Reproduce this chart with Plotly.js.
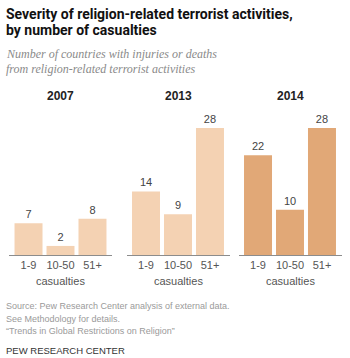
<!DOCTYPE html>
<html>
<head>
<meta charset="utf-8">
<script src="https://cdn.plot.ly/plotly-3.0.1.min.js"></script>
<style>
  html, body { margin: 0; padding: 0; background: #fff; }
  #chart { width: 350px; height: 358px; }
</style>
</head>
<body>
<div id="chart"></div>
<script>
// Countries with casualties from religion-related terrorism, by casualty band
const years = ['2007', '2013', '2014'];
const categories = ['1-9', '10-50', '51+'];
const counts2007 = [7, 2, 8];
const counts2013 = [14, 9, 28];
const counts2014 = [22, 10, 28];

const W = 350, H = 358;
const px = x => x / W;          // pixel -> paper x
const py = y => 1 - y / H;      // pixel -> paper y

const lightColor = '#F4D2B3';
const darkColor = '#E1A877';
const seriesList = [counts2007, counts2013, counts2014];
const colors = [lightColor, lightColor, darkColor];
const axisIds = ['x', 'x2', 'x3'];
const domains = [[9, 112], [126.5, 229.5], [238.5, 341.5]];
const sans = 'Liberation Sans, Arial, sans-serif';

const traces = seriesList.map((vals, i) => ({
  type: 'bar',
  x: categories,
  y: vals,
  xaxis: axisIds[i],
  yaxis: 'y',
  marker: { color: colors[i] },
  text: vals.map(String),
  textposition: 'outside',
  textfont: { family: sans, size: 11, color: '#444' },
  cliponaxis: false,
  hoverinfo: 'skip'
}));

const baseY = 255, topY = 255 - 30 * (127 / 28);

const layout = {
  width: W, height: H,
  margin: { l: 0, r: 0, t: 0, b: 0 },
  paper_bgcolor: '#fff',
  plot_bgcolor: '#fff',
  showlegend: false,
  bargap: 0.125,
  yaxis: {
    range: [0, 30],
    domain: [py(baseY), py(topY)],
    visible: false,
    fixedrange: true
  },
  annotations: [],
  font: { family: sans }
};

axisIds.forEach((id, i) => {
  const key = id === 'x' ? 'xaxis' : 'xaxis' + id.slice(1);
  layout[key] = {
    domain: [px(domains[i][0]), px(domains[i][1])],
    anchor: 'y',
    type: 'category',
    range: [-0.61, 2.61],
    showline: true,
    linecolor: '#8c8c8c',
    linewidth: 1,
    showgrid: false,
    zeroline: false,
    ticks: '',
    tickfont: { family: sans, size: 11, color: '#555' },
    fixedrange: true
  };
  const cx = (domains[i][0] + domains[i][1]) / 2;
  layout.annotations.push({
    xref: 'paper', yref: 'paper', x: px(cx), y: py(96),
    xanchor: 'center', yanchor: 'middle', showarrow: false,
    text: '<b>' + years[i] + '</b>',
    font: { family: sans, size: 12, color: '#222' }
  });
  layout.annotations.push({
    xref: 'paper', yref: 'paper', x: px(cx), y: py(281),
    xanchor: 'center', yanchor: 'middle', showarrow: false,
    text: 'casualties',
    font: { family: sans, size: 11, color: '#555' }
  });
});

// Headline, subtitle and footer text
const leftX = px(4);
const textBlocks = [
  { y: 14, text: '<b>Severity of religion-related terrorist activities,</b>', size: 14, color: '#111', family: 'Roboto, Liberation Sans, sans-serif' },
  { y: 30, text: '<b>by number of casualties</b>', size: 14, color: '#111', family: 'Roboto, Liberation Sans, sans-serif' },
  { y: 54, text: '<i>Number of countries with injuries or deaths</i>', size: 12, color: '#8a8a8a', family: 'Liberation Serif, serif' },
  { y: 69, text: '<i>from religion-related terrorist activities</i>', size: 12, color: '#8a8a8a', family: 'Liberation Serif, serif' },
  { y: 306, text: 'Source: Pew Research Center analysis of external data.', size: 9, color: '#9a9a9a', family: sans },
  { y: 319, text: 'See Methodology for details.', size: 9, color: '#9a9a9a', family: sans },
  { y: 331, text: '\u201CTrends in Global Restrictions on Religion\u201D', size: 9, color: '#9a9a9a', family: sans },
  { y: 350, text: 'PEW RESEARCH CENTER', size: 9.5, color: '#333', family: sans }
];
textBlocks.forEach(b => {
  layout.annotations.push({
    xref: 'paper', yref: 'paper', x: leftX, y: py(b.y),
    xanchor: 'left', yanchor: 'middle', showarrow: false,
    text: b.text,
    font: { family: b.family, size: b.size, color: b.color }
  });
});

Plotly.newPlot('chart', traces, layout, { displayModeBar: false, staticPlot: true });
</script>
</body>
</html>
